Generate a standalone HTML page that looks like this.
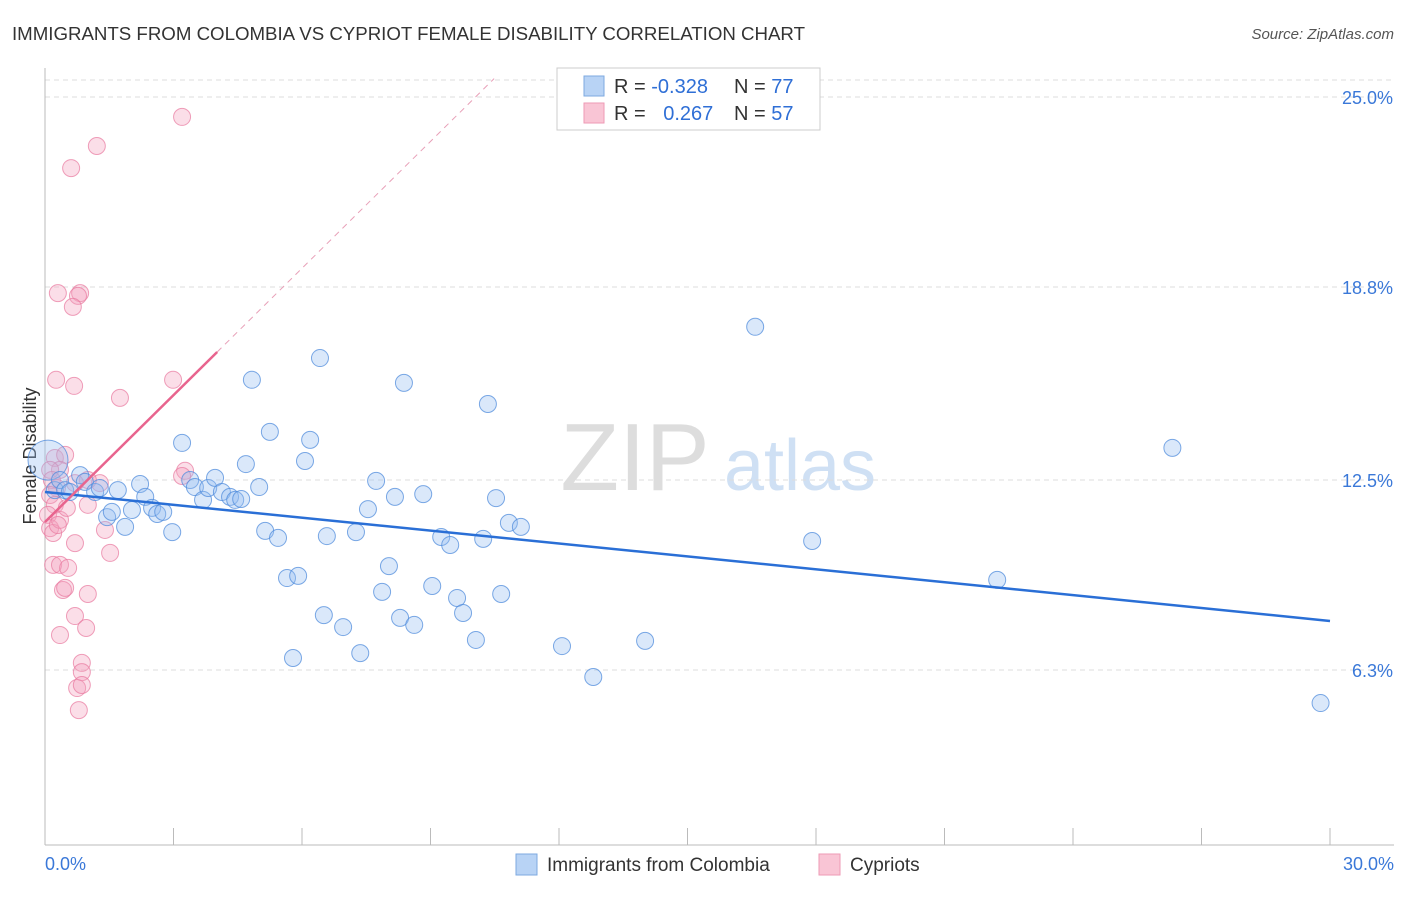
<!DOCTYPE html>
<html><head><meta charset="utf-8"><style>
body{margin:0;background:#fff;font-family:"Liberation Sans",sans-serif;}
svg text{font-family:"Liberation Sans",sans-serif;}
</style></head><body>
<svg id="c" width="1406" height="892">
<text x="12" y="40" font-size="18.7" fill="#333" textLength="793">IMMIGRANTS FROM COLOMBIA VS CYPRIOT FEMALE DISABILITY CORRELATION CHART</text>
<text x="1394" y="39" font-size="15" fill="#555" text-anchor="end" font-style="italic">Source: ZipAtlas.com</text>
<text x="36" y="456" font-size="18" fill="#333" transform="rotate(-90 36 456)" text-anchor="middle">Female Disability</text>
<g><text x="635" y="490" font-size="96" fill="#ddd" text-anchor="middle" font-family="Liberation Serif">ZIP</text><text x="800" y="490" font-size="72" fill="#cfe0f4" text-anchor="middle">atlas</text></g>
<g id="grid"></g><g id="marks"></g>
<g>
<rect x="557" y="68" width="263" height="62" fill="#fff" stroke="#ccc"/>
<rect x="584" y="76" width="20" height="20" fill="#b8d3f5" stroke="#7ea9e0"/>
<rect x="584" y="103" width="20" height="20" fill="#f9c5d5" stroke="#ee9ab5"/>
<text x="614" y="93" font-size="20" fill="#333">R = <tspan fill="#2f6fd6">-0.328</tspan></text>
<text x="734" y="93" font-size="20" fill="#333">N = <tspan fill="#2f6fd6">77</tspan></text>
<text x="614" y="120" font-size="20" fill="#333">R = <tspan fill="#2f6fd6" dx="12">0.267</tspan></text>
<text x="734" y="120" font-size="20" fill="#333">N = <tspan fill="#2f6fd6">57</tspan></text>
</g>
<g>
<rect x="516" y="854" width="21" height="21" fill="#b8d3f5" stroke="#7ea9e0"/>
<text x="547" y="871" font-size="19" fill="#333">Immigrants from Colombia</text>
<rect x="819" y="854" width="21" height="21" fill="#f9c5d5" stroke="#ee9ab5"/>
<text x="850" y="871" font-size="19" fill="#333">Cypriots</text>
</g>
</svg>
<script>
const blueX=[0.07,0.23,0.35,0.47,0.58,0.82,0.93,1.17,1.28,1.45,1.56,1.70,1.87,2.03,2.22,2.34,2.50,2.62,2.76,2.97,3.20,3.39,3.50,3.69,3.81,3.97,4.13,4.32,4.44,4.58,4.69,4.83,5.00,5.14,5.25,5.44,5.65,5.79,5.91,6.07,6.19,6.42,6.51,6.58,6.96,7.26,7.36,7.54,7.73,7.87,8.03,8.17,8.29,8.38,8.62,8.83,9.04,9.25,9.46,9.62,9.76,10.06,10.23,10.34,10.53,10.65,10.83,11.11,12.07,12.80,14.01,16.58,17.91,22.23,26.32,29.78];
const blueY=[13.15,12.17,12.50,12.17,12.11,12.66,12.44,12.11,12.24,11.29,11.46,12.17,10.97,11.52,12.37,11.95,11.59,11.39,11.46,10.80,13.71,12.50,12.27,11.85,12.24,12.57,12.11,11.95,11.85,11.88,13.02,15.77,12.27,10.84,14.07,10.61,9.30,6.69,9.37,13.12,13.81,16.48,8.09,10.67,7.70,10.80,6.85,11.55,12.47,8.85,9.69,11.95,8.00,15.67,7.77,12.04,9.04,10.64,10.38,8.65,8.16,7.28,10.58,14.98,11.91,8.78,11.10,10.97,7.08,6.07,7.25,17.50,10.51,9.24,13.55,5.22];
const pinkX=[3.20,1.21,0.61,0.30,0.82,0.77,0.65,0.26,0.68,2.99,1.75,3.27,3.20,0.23,0.47,0.35,0.12,0.16,0.28,0.12,0.23,0.07,0.12,0.19,0.35,0.51,1.00,0.30,1.28,1.00,0.70,0.70,1.40,1.52,0.19,0.35,0.54,1.00,0.42,0.47,0.70,0.96,0.35,0.86,0.86,0.75,0.86,0.79];
const pinkY=[24.35,23.40,22.68,18.60,18.60,18.51,18.15,15.77,15.57,15.77,15.18,12.80,12.63,13.22,13.32,12.83,12.83,12.50,12.24,12.01,11.69,11.36,10.93,10.77,11.20,11.59,11.69,11.03,12.40,12.50,12.40,10.44,10.87,10.12,9.73,9.73,9.63,8.78,8.91,8.98,8.06,7.67,7.44,6.53,6.23,5.71,5.81,4.99];
const yTicks=[25.0,18.8,12.5,6.3];
const yTickLabels=["25.0%","18.8%","12.5%","6.3%"];
const blueTrend=[12.11,7.90];
const pinkTrend=[11.13,1.38];
const NS="http://www.w3.org/2000/svg";
const X=v=>45+v/30*1285, Y=v=>863-v/6.25*191.5;
function el(t,a,p){const e=document.createElementNS(NS,t);for(const k in a)e.setAttribute(k,a[k]);p.appendChild(e);return e;}
const g=document.getElementById('grid'),m=document.getElementById('marks');
const topGrid=el('line',{x1:45,x2:1394,y1:80,y2:80,stroke:'#ddd','stroke-dasharray':'5,4'},g);


yTicks.forEach((t,i)=>{
 const l=el('line',{x1:45,x2:1394,y1:Y(t),y2:Y(t),stroke:'#ddd','stroke-dasharray':'5,4'},g);
 
 
 const tx=el('text',{x:1393,y:Y(t)+7,'font-size':18,fill:'#3a78d8','text-anchor':'end'},g);
 tx.textContent=yTickLabels[i];
 
 
});
const ax=el('line',{x1:45,x2:45,y1:68,y2:845,stroke:'#bbb'},g);


const bx=el('line',{x1:45,x2:1394,y1:845,y2:845,stroke:'#bbb'},g);


for(let i=0;i<=10;i++){const t=el('line',{x1:X(i*3),x2:X(i*3),y1:828,y2:845,stroke:'#bbb'},g);
 
 }
[[0,"0.0%",'start',45],[30,"30.0%",'end',1394]].forEach(d=>{const t=el('text',{x:d[3],y:870,'font-size':18,fill:'#3a78d8','text-anchor':d[2]},g);t.textContent=d[1];
 
 });
pinkX.forEach((x,i)=>{const c=el('circle',{cx:X(x),cy:Y(pinkY[i]),r:8.5,fill:'rgba(244,160,188,0.35)',stroke:'rgba(232,120,158,0.7)','stroke-width':1},m);
 
 });
blueX.forEach((x,i)=>{const c=el('circle',{cx:X(x),cy:Y(blueY[i]),r:i==0?20:8.5,fill:'rgba(150,190,240,0.35)',stroke:'rgba(80,140,220,0.75)','stroke-width':1},m);
 
 });
const bl=el('line',{x1:X(0),y1:Y(blueTrend[0]),x2:X(30),y2:Y(blueTrend[1]),stroke:'#2a6fd6','stroke-width':2.5},m);


const px1=4.02, px2=(25.6-pinkTrend[0])/pinkTrend[1];
const pl=el('line',{x1:X(0),y1:Y(pinkTrend[0]),x2:X(px1),y2:Y(pinkTrend[0]+pinkTrend[1]*px1),stroke:'#e8648e','stroke-width':2.5},m);


const pd=el('line',{x1:X(px1),y1:Y(pinkTrend[0]+pinkTrend[1]*px1),x2:X(px2),y2:Y(25.6),stroke:'#e8a0b8','stroke-width':1,'stroke-dasharray':'6,5'},m);


</script>
</body></html>
